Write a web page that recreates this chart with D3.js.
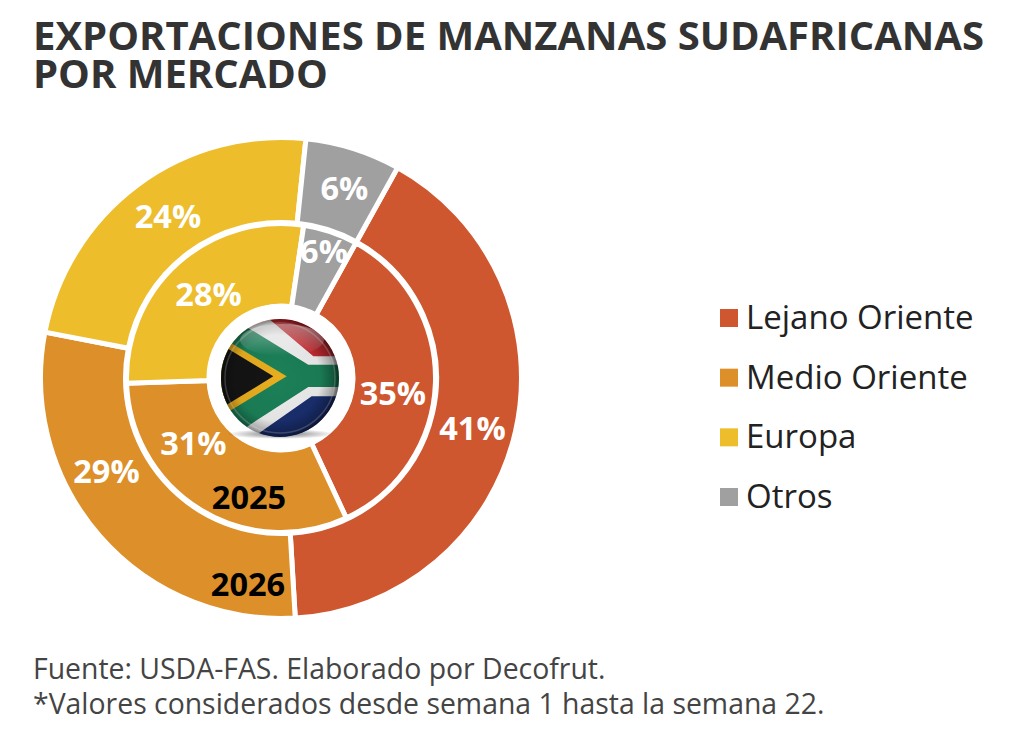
<!DOCTYPE html>
<html><head><meta charset="utf-8">
<script src="https://cdn.jsdelivr.net/npm/d3@7/dist/d3.min.js"></script>
<style>html,body{margin:0;padding:0;background:#fff}svg{display:block}text{font-family:"Open Sans",sans-serif}</style>
</head><body><svg id="c" width="1024" height="729"></svg>
<script>
const categories = ["Lejano Oriente","Medio Oriente","Europa","Otros"];
const values2026 = [41,29,23.6,6.4];
const values2025 = [35,31.4,27.9,5.7];
const colors = ["#cf5730","#dd8f2a","#edbd2b","#a0a0a0"];
const titleLines = ["EXPORTACIONES DE MANZANAS SUDAFRICANAS","POR MERCADO"];
const footLines = ["Fuente: USDA-FAS. Elaborado por Decofrut.","*Valores considerados desde semana 1 hasta la semana 22."];

const svg = d3.select("#c");
const cx=281, cy=378;
const color=d3.scaleOrdinal(categories,colors);
const startAngle=29*Math.PI/180;

svg.selectAll("text.t").data(titleLines).join("text").attr("class","t")
  .attr("x",33).attr("y",(d,i)=>50+i*38).attr("font-size",40).attr("font-weight",700).attr("fill","#333").text(d=>d);
svg.selectAll("text.f").data(footLines).join("text").attr("class","f")
  .attr("x",33).attr("y",(d,i)=>679+i*35).attr("font-size",28.4).attr("fill","#444").text(d=>d);

const g=svg.append("g").attr("transform",`translate(${cx},${cy})`);
const pie=d3.pie().sort(null).startAngle(startAngle).endAngle(startAngle+2*Math.PI);

function ring(vals,r0,r1,labelR,angleNudge,radiusNudge){
  const arcs=pie(vals);
  const arc=d3.arc().innerRadius(r0).outerRadius(r1);
  g.append("g").selectAll("path").data(arcs).join("path")
    .attr("d",arc).attr("fill",(d,i)=>colors[i]).attr("stroke","#fff").attr("stroke-width",5);
  g.append("g").selectAll("text").data(arcs).join("text")
    .attr("transform",(d,i)=>{
      const a=(d.startAngle+d.endAngle)/2+angleNudge[i]*Math.PI/180, r=labelR+radiusNudge[i];
      return `translate(${r*Math.sin(a)},${-r*Math.cos(a)})`;})
    .attr("text-anchor","middle").attr("dy","0.36em").attr("font-size",32.5).attr("font-weight",700)
    .attr("fill","#fff").text(d=>Math.round(d.value)+"%");
}
ring(values2026,155.5,240.5,198,[2,13,1.5,1],[0,0,-1,2]);
ring(values2025,72,154.5,111,[6,22,1,0],[2,-2,0,23]);

const years=[["2026",-33,206],["2025",-32,119]];
g.selectAll("text.y").data(years).join("text").attr("class","y")
  .attr("x",d=>d[1]).attr("y",d=>d[2]).attr("text-anchor","middle").attr("dy","0.36em")
  .attr("font-size",32.5).attr("font-weight",700).attr("fill","#000").text(d=>d[0]);

// legend
const legY=d3.scalePoint().domain(categories).range([318,497]);
const leg=svg.append("g").selectAll("g").data(categories).join("g")
  .attr("transform",d=>`translate(720,${legY(d)})`);
leg.append("rect").attr("y",-9).attr("width",18).attr("height",18).attr("fill",d=>color(d));
leg.append("text").attr("x",26).attr("dy","0.33em").attr("font-size",33).attr("fill","#222").text(d=>d);

// flag badge
const defs=svg.append("defs");
defs.append("clipPath").attr("id","ball").append("circle").attr("r",59);
const gl=defs.append("radialGradient").attr("id","gloss").attr("cx","48%").attr("cy","50%").attr("r","52%");
[[0,"#000",0],[0.7,"#000",0.05],[0.9,"#000",0.3],[1,"#000",0.62]].forEach(s=>gl.append("stop").attr("offset",s[0]).attr("stop-color",s[1]).attr("stop-opacity",s[2]));
const sh=defs.append("radialGradient").attr("id","shadow");
[[0,"#000",0.55],[1,"#000",0]].forEach(s=>sh.append("stop").attr("offset",s[0]).attr("stop-color",s[1]).attr("stop-opacity",s[2]));
const shineGrad=defs.append("linearGradient").attr("id","shine").attr("x1",0).attr("y1",0).attr("x2",0).attr("y2",1);
[[0,"#fff",0.4],[1,"#fff",0.0]].forEach(s=>shineGrad.append("stop").attr("offset",s[0]).attr("stop-color",s[1]).attr("stop-opacity",s[2]));

svg.append("circle").attr("cx",cx).attr("cy",cy).attr("r",74).attr("fill","#fff");
svg.append("ellipse").attr("cx",cx).attr("cy",434).attr("rx",54).attr("ry",5).attr("fill","url(#shadow)");
const b=svg.append("g").attr("transform",`translate(280,378)`);
const f=b.append("g").attr("clip-path","url(#ball)");
const p=(pts,fill)=>f.append("path").attr("d",d3.line()(pts.map(q=>[(q[0]-270)/3,(q[1]-235)/3]))+"Z").attr("fill",fill);
f.append("rect").attr("x",-60).attr("y",-60).attr("width",120).attr("height",60).attr("fill","#c22a30");
f.append("rect").attr("x",-60).attr("y",0).attr("width",120).attr("height",60).attr("fill","#1a2f70");
p([[60,-30],[240,60],[370,170],[470,170],[470,290],[365,290],[215,395],[60,500]],"#eeeeee");
p([[60,20],[200,100],[355,195],[470,195],[470,262],[355,262],[180,375],[60,460]],"#1b8058");
p([[60,92],[290,230],[60,370]],"#e8ae1f");
p([[60,114],[250,230],[60,346]],"#141414");
f.append("circle").attr("r",59).attr("fill","url(#gloss)");
f.append("ellipse").attr("cx",2).attr("cy",-38).attr("rx",42).attr("ry",16).attr("fill","url(#shine)");
b.append("circle").attr("r",55).attr("fill","none").attr("stroke","#fff").attr("stroke-opacity",0.18).attr("stroke-width",1.5);
</script></body></html>
